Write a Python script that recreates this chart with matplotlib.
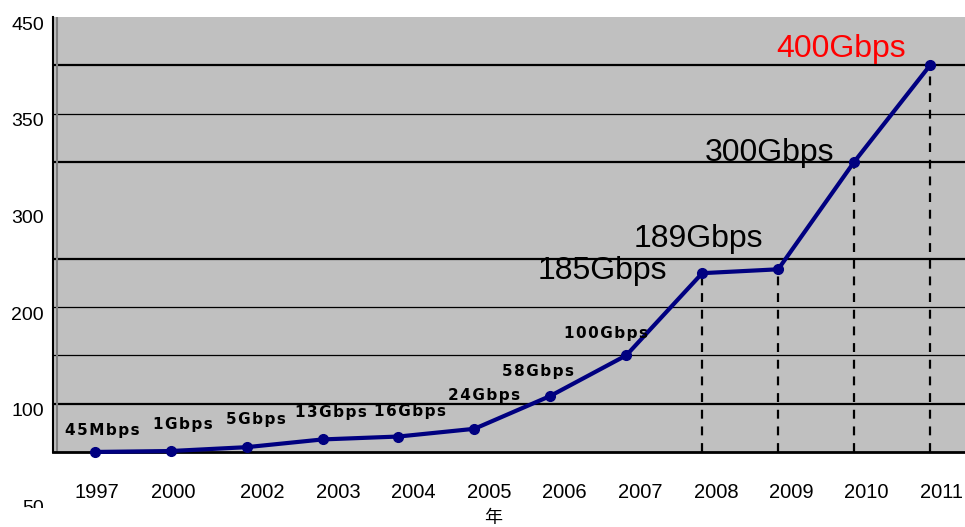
import matplotlib.pyplot as plt
import matplotlib.transforms as mtransforms

# data
years = ['1997', '2000', '2002', '2003', '2004', '2005', '2006', '2007',
         '2008', '2009', '2010', '2011']
gbps = [0.045, 1, 5, 13, 16, 24, 58, 100, 185, 189, 300, 400]
labels = ['45Mbps', '1Gbps', '5Gbps', '13Gbps', '16Gbps', '24Gbps', '58Gbps',
          '100Gbps', '185Gbps', '189Gbps', '300Gbps', '400Gbps']
# year labels sit a little right of the points in the original
label_pos = [0.03, 1.03, 2.21, 3.21, 4.2, 5.2, 6.19, 7.18, 8.18, 9.17, 10.16, 11.15]
ytick_pos = [450, 350, 250, 150, 50, -50]
ytick_txt = ['450', '350', '300', '200', '100', '50']
grid_thick = [50, 200, 300, 400]
grid_thin = [100, 150, 350]
dashed_from = 8   # dashed drop lines from 2008 on

# label offsets in pixels, (dx, dy)
small_off = [(8, 21), (12, 27), (9, 28), (8, 27), (12, 25), (10, 33), (-12, 24), (-20, 22)]
big_off = [(-100, 2), (-80, 30), (-85, 9), (-89, 16)]

fig = plt.figure(figsize=(9.65, 5.27), dpi=100)
ax = fig.add_axes([53 / 965, 75 / 527, 915 / 965, 435 / 527])
ax.set_facecolor('#C0C0C0')
ax.set_xlim(-0.55, 11.5)
ax.set_ylim(0, 450)

for g in grid_thick:
    ax.axhline(g, color='black', lw=1.6, zorder=1)
for g in grid_thin:
    ax.axhline(g, color='black', lw=0.9, zorder=1)
ax.axvline(-0.5, color='#808080', lw=1.5, zorder=1)

x = list(range(len(years)))
for i in x[dashed_from:]:
    ax.plot([i, i], [0, gbps[i]], color='black', lw=1.6, ls=(0, (4, 3.5)), zorder=2)

ax.plot(x, gbps, color='#000080', lw=3, marker='o', ms=7, zorder=3, clip_on=False)

# small labels are letter-spaced in the original
for i, (dx, dy) in enumerate(small_off):
    txt = '\u200a'.join(labels[i])
    ax.annotate(txt, (x[i], gbps[i]), xytext=(dx, dy), textcoords='offset pixels',
                ha='center', va='center', fontsize=11, fontweight='bold',
                family='DejaVu Sans', color='black', zorder=4)
for k, (dx, dy) in enumerate(big_off):
    i = 8 + k
    ax.annotate(labels[i], (x[i], gbps[i]), xytext=(dx, dy), textcoords='offset pixels',
                ha='center', va='center', fontsize=23, family='Liberation Sans',
                color='red' if i == len(years) - 1 else 'black', zorder=4)

ax.set_xticks(label_pos, years, fontsize=14.5, family='Liberation Sans')
ax.tick_params(axis='x', length=0, pad=22)
ax.set_yticks([])

trans = mtransforms.offset_copy(ax.get_yaxis_transform(), fig=fig, x=-9, y=-8, units='dots')
clip = mtransforms.Bbox.from_extents(0, 527 - 508, 965, 527)
for v, t in zip(ytick_pos, ytick_txt):
    tx = ax.text(0, v, t, transform=trans, ha='right', va='center', fontsize=14,
                 family='Liberation Sans', clip_on=False)
    if v < 0:
        # bottom label is cut off in the original
        tx.set_clip_on(True)
        tx.set_clip_box(mtransforms.TransformedBbox(clip, mtransforms.IdentityTransform()))

for s in ['top', 'right']:
    ax.spines[s].set_visible(False)
ax.spines['left'].set_linewidth(1.5)
ax.spines['bottom'].set_linewidth(2)

fig.text(493 / 965, 1 - 518 / 527, '年', ha='center', va='center', fontsize=13,
         family=['Noto Sans CJK JP', 'DejaVu Sans'])

fig.savefig('out.png', dpi=100)
